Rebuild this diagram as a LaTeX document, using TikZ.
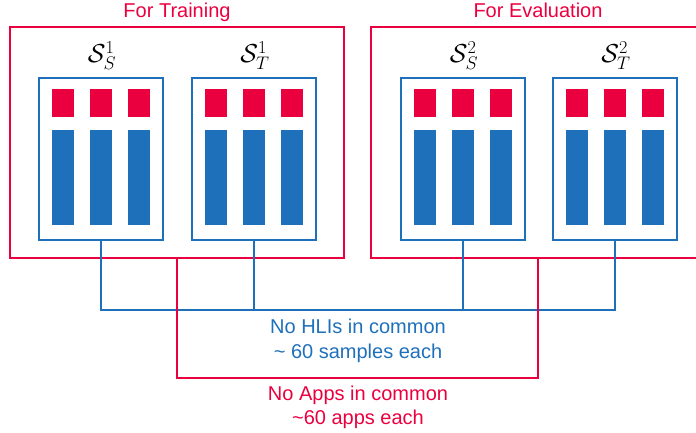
\RequirePackage{fix-cm}
\documentclass[tikz,border=0pt]{standalone}
\usepackage{fontspec}
\setmainfont{Liberation Sans}
\definecolor{myred}{RGB}{235,0,63}
\definecolor{myblue}{RGB}{31,112,187}
\tikzset{
  redbox/.style={draw=myred, line width=1.4pt, minimum width=334pt, minimum height=231pt, inner sep=0pt},
  setbox/.style={draw=myblue, line width=1.4pt, minimum width=124pt, minimum height=162pt, inner sep=0pt},
  hli/.style={fill=myred, minimum width=22pt, minimum height=28pt, inner sep=0pt},
  sample/.style={fill=myblue, minimum width=22pt, minimum height=95pt, inner sep=0pt},
  bluelink/.style={draw=myblue, line width=1.3pt},
  redlink/.style={draw=myred, line width=1.4pt},
  redtxt/.style={text=myred, font=\fontsize{20}{25}\selectfont, anchor=base, inner sep=0pt},
  bluetxt/.style={text=myblue, font=\fontsize{20}{25}\selectfont, anchor=base, inner sep=0pt},
  setlabel/.style={font=\fontsize{26}{30}\selectfont, anchor=base, inner sep=0pt},
}
\newcommand{\mkset}[3]{%
  \node[setbox] (#1) at (#2,159) {};
  \node[setlabel] (#1-lbl) at (#2+1,63) {$#3$};
  \foreach \i/\k in {-1/a,0/b,1/c} {
    \node[hli] (#1-h\k) at (#2+38*\i,103) {};
    \node[sample] (#1-s\k) at (#2+38*\i,177.5) {};
  }
}
\begin{document}
\begin{tikzpicture}[x=1pt,y=-1pt]
\useasboundingbox (0,0) rectangle (696,433);
\clip (0,0) rectangle (696,433);
% group boxes
\node[redbox] (train) at (177,142.5) {};
\node[redbox] (eval) at (538,142.5) {};
\node[redtxt] (trainlbl) at (177,18) {For Training};
\node[redtxt] (evallbl) at (538,18) {For Evaluation};
% data sets
\mkset{sS1}{101}{\mathcal{S}_S^1}
\mkset{sT1}{254}{\mathcal{S}_T^1}
\mkset{sS2}{463}{\mathcal{S}_S^2}
\mkset{sT2}{615}{\mathcal{S}_T^2}
% blue connectors
\coordinate (bluebus) at (358,310);
\draw[bluelink] (sS1.south) |- (bluebus) -| (sT2.south);
\draw[bluelink] (sT1.south) -- (sT1.south |- bluebus);
\draw[bluelink] (sS2.south) -- (sS2.south |- bluebus);
% red connectors
\coordinate (redbus) at (358,378);
\draw[redlink] (train.south) |- (redbus) -| (eval.south);
% texts
\node[bluetxt] (hli1) at (358,333) {No HLIs in common};
\node[bluetxt] (hli2) at (358,358) {\textasciitilde{} 60 samples each};
\node[redtxt] (app1) at (358,400) {No Apps in common};
\node[redtxt] (app2) at (358,424) {\textasciitilde 60 apps each};
\end{tikzpicture}
\end{document}
